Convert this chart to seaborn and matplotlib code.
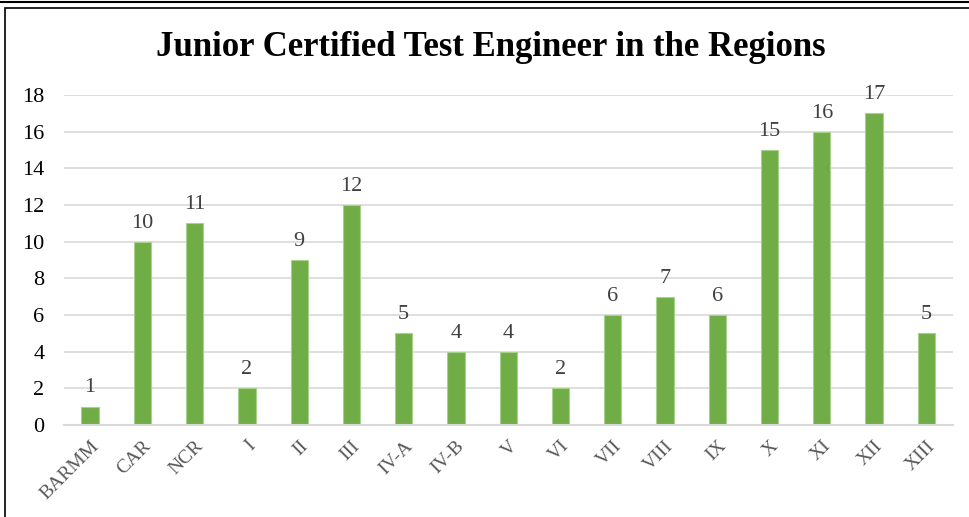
import matplotlib
matplotlib.use("Agg")
import matplotlib.pyplot as plt
import seaborn as sns
import pandas as pd
from matplotlib.patches import Rectangle
from matplotlib.lines import Line2D

regions = ['BARMM', 'CAR', 'NCR', 'I', 'II', 'III', 'IV-A', 'IV-B', 'V', 'VI',
           'VII', 'VIII', 'IX', 'X', 'XI', 'XII', 'XIII']
counts = [1, 10, 11, 2, 9, 12, 5, 4, 4, 2, 6, 7, 6, 15, 16, 17, 5]
y_ticks = [0, 2, 4, 6, 8, 10, 12, 14, 16, 18]

df = pd.DataFrame({'region': regions, 'count': counts})

sns.set_style('white')
plt.rcParams['font.family'] = ['Liberation Serif', 'DejaVu Serif']

fig = plt.figure(figsize=(9.69, 5.17), dpi=100)
ax = fig.add_axes([0.066, 0.178, 0.917, 0.638])

sns.barplot(data=df, x='region', y='count', color='#70AD47', width=0.33,
            edgecolor='#A9D18E', linewidth=0.8, saturation=1, ax=ax)

for i, v in enumerate(counts):
    ax.text(i, v + 0.5, str(v), ha='center', va='bottom', fontsize=16, color='#404040')

ax.set_ylim(0, 18)
ax.set_yticks(y_ticks)
ax.set_xlim(-0.5, len(regions) - 0.5)
ax.yaxis.grid(True, color='#D9D9D9', linewidth=1.2)
ax.set_axisbelow(True)
for s in ['top', 'right', 'left']:
    ax.spines[s].set_visible(False)
ax.spines['bottom'].set_color('#D9D9D9')
ax.spines['bottom'].set_linewidth(1.5)
ax.tick_params(axis='both', length=0)
ax.tick_params(axis='y', labelsize=16, labelcolor='#000000', pad=14)
ax.tick_params(axis='x', labelsize=14, labelcolor='#595959', pad=9)
plt.setp(ax.get_xticklabels(), rotation=45, ha='right', rotation_mode='anchor')
ax.set_xlabel('')
ax.set_ylabel('')

fig.text(0.506, 0.909, 'Junior Certified Test Engineer in the Regions',
         ha='center', va='center', fontsize=25, fontweight='bold', color='#000000')

# chart frame
fig.patches.append(Rectangle((5 / 969, -0.05), 1.1, 1 - 8 / 517 + 0.05,
                             transform=fig.transFigure, fill=False,
                             edgecolor='#000000', linewidth=1.2))
fig.lines.append(Line2D([0, 1], [1 - 1.5 / 517, 1 - 1.5 / 517],
                        transform=fig.transFigure, color='#000000', linewidth=1.5))

fig.savefig('out.png', dpi=100)
